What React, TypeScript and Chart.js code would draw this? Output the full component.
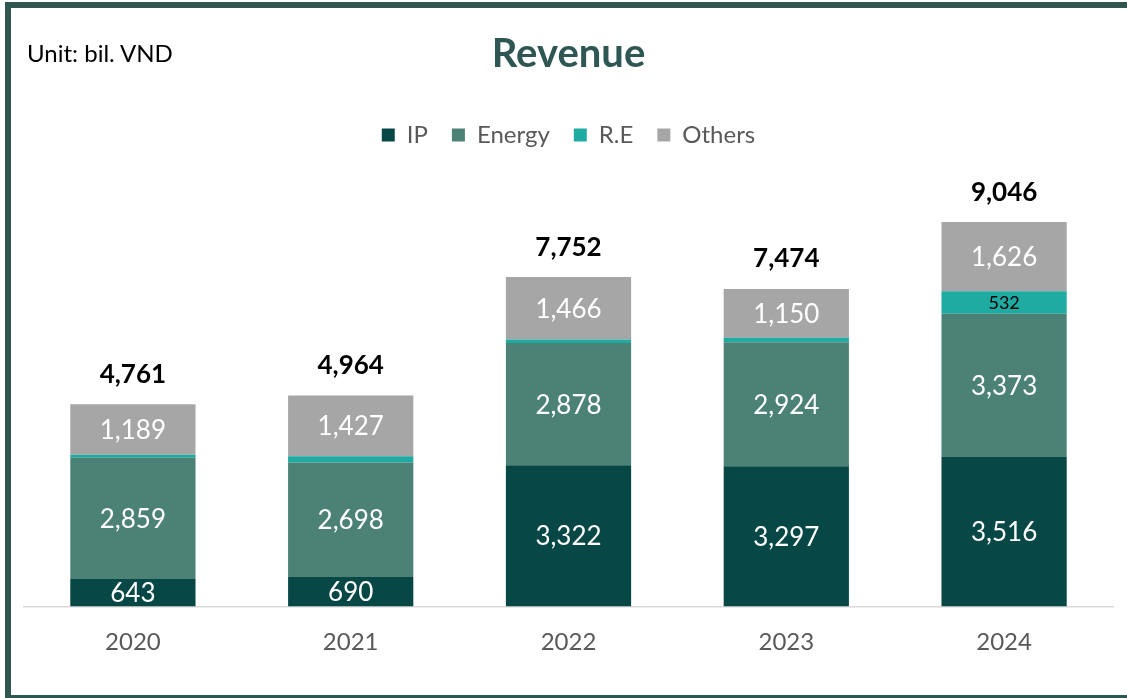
import React, { useEffect, useRef } from "react";
import { Chart, registerables } from "chart.js";

Chart.register(...registerables);

const years = ["2020", "2021", "2022", "2023", "2024"];
const ipValues = [643, 690, 3322, 3297, 3516];
const energyValues = [2859, 2698, 2878, 2924, 3373];
const reValues = [70, 149, 86, 103, 532];
const othersValues = [1189, 1427, 1466, 1150, 1626];
const totals = [4761, 4964, 7752, 7474, 9046];

const FONT = "Lato, 'Open Sans', sans-serif";

const fmt = (v: number) => v.toLocaleString("en-US");

const labelPlugin = {
  id: "segLabels",
  afterDatasetsDraw(chart: any) {
    const ctx = chart.ctx;
    ctx.save();
    ctx.textAlign = "center";
    ctx.textBaseline = "middle";
    chart.data.datasets.forEach((ds: any, di: number) => {
      const meta = chart.getDatasetMeta(di);
      meta.data.forEach((el: any, i: number) => {
        const v = ds.data[i];
        const props = el.getProps(["x", "y", "base"], true);
        const h = Math.abs(props.base - props.y);
        if (ds.label === "R.E") {
          if (h < 18) return;
          ctx.fillStyle = "#000000";
          ctx.font = `18px ${FONT}`;
        } else {
          ctx.fillStyle = "#ffffff";
          ctx.font = `26px ${FONT}`;
        }
        ctx.fillText(fmt(v), props.x, (props.y + props.base) / 2 + 1);
      });
    });
    const lastMeta = chart.getDatasetMeta(chart.data.datasets.length - 1);
    ctx.fillStyle = "#000000";
    ctx.font = `bold 26px ${FONT}`;
    lastMeta.data.forEach((el: any, i: number) => {
      const props = el.getProps(["x", "y"], true);
      ctx.fillText(fmt(totals[i]), props.x, props.y - 30);
    });
    ctx.restore();
  },
};

export default function App() {
  const ref = useRef<HTMLCanvasElement | null>(null);
  useEffect(() => {
    if (!ref.current) return;
    const chart = new Chart(ref.current, {
      type: "bar",
      data: {
        labels: years,
        datasets: [
          { label: "IP", data: ipValues, backgroundColor: "#074846" },
          { label: "Energy", data: energyValues, backgroundColor: "#4c8176" },
          { label: "R.E", data: reValues, backgroundColor: "#1faaa2" },
          { label: "Others", data: othersValues, backgroundColor: "#a6a6a6" },
        ],
      },
      options: {
        animation: false,
        responsive: false,
        maintainAspectRatio: false,
        datasets: {
          bar: {
            barPercentage: 0.575,
            categoryPercentage: 1,
            borderWidth: 0,
          },
        },
        layout: { padding: { left: 24, right: 14, top: 0, bottom: 19.6 } },
        scales: {
          x: {
            stacked: true,
            grid: { display: false, drawTicks: false },
            border: { display: true, color: "#d9d9d9", width: 1.5 },
            ticks: {
              padding: 21.6,
              color: "#595959",
              font: { family: FONT, size: 24 },
            },
          },
          y: {
            stacked: true,
            display: false,
            min: 0,
            max: 10580,
          },
        },
        plugins: {
          tooltip: { enabled: false },
          title: {
            display: true,
            text: "Revenue",
            color: "#2e5753",
            font: { family: FONT, size: 40, weight: "bold" },
            padding: { top: 30, bottom: 21 },
          },
          legend: {
            display: true,
            position: "top",
            labels: {
              boxWidth: 13,
              boxHeight: 13,
              padding: 24,
              color: "#595959",
              font: { family: FONT, size: 24 },
            },
          },
        },
      },
      plugins: [labelPlugin],
    });
    return () => chart.destroy();
  }, []);

  return (
    <div
      style={{
        position: "fixed",
        left: 0,
        top: 0,
        width: 1127,
        height: 698,
        background: "#ffffff",
        overflow: "hidden",
      }}
    >
      <canvas
        ref={ref}
        width={1127}
        height={698}
        style={{ position: "absolute", left: 0, top: 0, width: 1127, height: 698 }}
      />
      <div
        style={{
          position: "absolute",
          left: 27,
          top: 38,
          fontFamily: FONT,
          fontSize: 24,
          lineHeight: "29px",
          color: "#000000",
          whiteSpace: "nowrap",
        }}
      >
        Unit: bil. VND
      </div>
      <div style={{ position: "absolute", left: 5, top: 2, width: 1122, height: 6, background: "#2f5651" }} />
      <div style={{ position: "absolute", left: 5, top: 2, width: 6, height: 696, background: "#2f5651" }} />
      <div style={{ position: "absolute", left: 5, top: 695, width: 1122, height: 3, background: "#2f5651" }} />
    </div>
  );
}
